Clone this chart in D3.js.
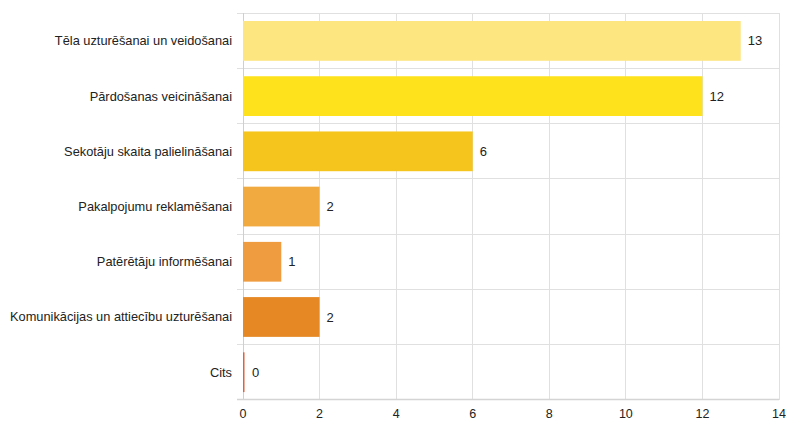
<!DOCTYPE html>
<html><head><meta charset="utf-8">
<script src="https://cdn.jsdelivr.net/npm/d3@7"></script>
<style>html,body{margin:0;padding:0;background:#fff;}svg{display:block;font-family:"Liberation Sans",Arial,sans-serif;}</style>
</head><body><svg id="c" width="786" height="421"></svg>
<script>
const categories = ["Tēla uzturēšanai un veidošanai","Pārdošanas veicināšanai","Sekotāju skaita palielināšanai","Pakalpojumu reklamēšanai","Patērētāju informēšanai","Komunikācijas un attiecību uzturēšanai","Cits"];
const values = [13,12,6,2,1,2,0];
const colors = ["#fde57f","#fee21c","#f6c51d","#f1aa40","#ef9b3f","#e68823","#e2603a"];
const xTicks = [0,2,4,6,8,10,12,14];

const svg = d3.select("#c");
const x = d3.scaleLinear().domain([0,14]).range([243,779]);
const y = d3.scaleBand().domain(categories).range([13.3,399.8]).paddingInner(0.28).paddingOuter(0.14);
const step = y.step();

// vertical grid
svg.append("g").selectAll("line").data(xTicks).join("line")
  .attr("x1",d=>x(d)).attr("x2",d=>x(d)).attr("y1",13.3).attr("y2",399.8)
  .attr("stroke","#e0e0e0").attr("stroke-width",1).attr("shape-rendering","crispEdges");
// horizontal grid at band boundaries
const bounds = d3.range(categories.length).map(i=>13.3+i*step);
svg.append("g").selectAll("line").data(bounds).join("line")
  .attr("x1",237).attr("x2",779).attr("y1",d=>d).attr("y2",d=>d)
  .attr("stroke","#e0e0e0").attr("stroke-width",1).attr("shape-rendering","crispEdges");
// axes
svg.append("line").attr("x1",x(0)).attr("x2",x(0)).attr("y1",13.3).attr("y2",399.8)
  .attr("stroke","#cfcfcf").attr("shape-rendering","crispEdges");
svg.append("line").attr("x1",237).attr("x2",779).attr("y1",399.5).attr("y2",399.5)
  .attr("stroke","#d4d4d4").attr("stroke-width",1.5);

// bars
svg.append("g").selectAll("rect").data(values).join("rect")
  .attr("x",x(0)).attr("y",(d,i)=>y(categories[i]))
  .attr("width",d=>Math.max(x(d)-x(0),1.5)).attr("height",y.bandwidth())
  .attr("fill",(d,i)=>colors[i]);

// value labels
svg.append("g").selectAll("text").data(values).join("text")
  .attr("x",d=>x(d)+(d===0?9:7)).attr("y",(d,i)=>y(categories[i])+y.bandwidth()/2)
  .attr("dy","0.35em").attr("font-size",13).attr("fill","#222").text(d=>d);

// category labels
svg.append("g").selectAll("text").data(categories).join("text")
  .attr("x",232).attr("y",d=>y(d)+y.bandwidth()/2).attr("dy","0.35em")
  .attr("text-anchor","end").attr("font-size",12.8).attr("fill","#222").text(d=>d);

// tick labels
svg.append("g").selectAll("text").data(xTicks).join("text")
  .attr("x",d=>x(d)).attr("y",414).attr("dy","0.35em").attr("text-anchor","middle")
  .attr("font-size",12.5).attr("fill","#222").text(d=>d);
</script></body></html>
